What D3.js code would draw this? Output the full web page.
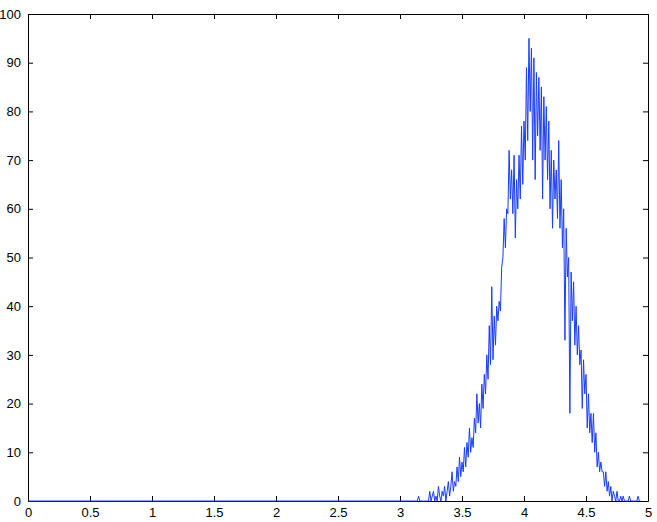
<!DOCTYPE html>
<html>
<head>
<meta charset="utf-8">
<script src="https://cdn.jsdelivr.net/npm/d3@7"></script>
<style>
  body { margin: 0; background: #fff; }
  .axis text { font-family: "Liberation Sans", Arial, sans-serif; font-size: 13px; fill: #000; }
  .axis path, .axis line { stroke: #000; }
</style>
</head>
<body>
<div class="chart"></div>
<script>
// tick labels
const xTicks = [0, 0.5, 1, 1.5, 2, 2.5, 3, 3.5, 4, 4.5, 5];
const yTicks = [0, 10, 20, 30, 40, 50, 60, 70, 80, 90, 100];

// line starts flat at zero from x = 0
const leadIn = [[0, 0]];

// histogram counts, one per bin of width 0.01 starting at 3.10
const binStart = 3.10;
const binWidth = 0.01;
const counts = [
  0, 0, 0, 0, 0, 1, 0, 0, 0, 0,      // 3.10
  0, 0, 0, 0, 2, 0, 1, 2, 0, 1,      // 3.20
  0, 3, 1, 0, 2, 1, 3, 0, 2, 4,      // 3.30
  1, 3, 6, 2, 4, 3, 7, 4, 9, 5,      // 3.40
  8, 6, 11, 7, 12, 9, 15, 10, 13, 11, // 3.50
  17, 14, 22, 16, 20, 15, 24, 19, 26, 22, // 3.60
  30, 25, 36, 28, 44, 29, 38, 32, 40, 37, // 3.70
  41, 39, 48, 50, 58, 52, 60, 59, 72, 62, // 3.80
  68, 59, 71, 54, 66, 60, 71, 62, 77, 65, // 3.90
  78, 70, 89, 74, 95, 80, 93, 70, 91, 66, // 4.00
  88, 75, 87, 72, 85, 62, 83, 70, 81, 66, // 4.10
  78, 60, 72, 56, 70, 62, 68, 58, 74, 56, // 4.20
  66, 52, 60, 33, 56, 46, 50, 18, 47, 37, // 4.30
  45, 32, 40, 30, 36, 28, 31, 19, 29, 22, // 4.40
  26, 15, 22, 14, 18, 12, 18, 10, 14, 7,  // 4.50
  10, 6, 8, 6, 6, 3, 6, 2, 4, 1,          // 4.60
  3, 0, 2, 1, 0, 2, 0, 0, 1, 0,           // 4.70
  1, 0, 0, 0, 0, 1, 0, 0, 0, 0,           // 4.80
  0, 0, 1, 0, 0                           // 4.90
];

const margin = {top: 14, left: 28, right: 9, bottom: 21};
const width = 657 - margin.left - margin.right;
const height = 522 - margin.top - margin.bottom;

const svg = d3.select(".chart").append("svg")
    .attr("width", 657)
    .attr("height", 522)
    .append("g")
    .attr("transform", "translate(" + margin.left + "," + margin.top + ")");

const xScale = d3.scaleLinear().domain([0, 5]).range([0, width]);
const yScale = d3.scaleLinear().domain([0, 100]).range([height, 0]);

const points = leadIn.concat(counts.map((c, i) => [binStart + i * binWidth, c]));

const line = d3.line()
    .x(d => xScale(d[0]))
    .y(d => yScale(d[1]));

// axes, ticks pointing inward like MATLAB
svg.append("g")
    .attr("class", "axis x-axis")
    .attr("transform", `translate(0, ${height})`)
    .call(d3.axisBottom(xScale).tickValues(xTicks).tickFormat(d3.format("")).tickSizeInner(-5).tickSizeOuter(0).tickPadding(7));

svg.append("g")
    .attr("class", "axis y-axis")
    .call(d3.axisLeft(yScale).tickValues(yTicks).tickSizeInner(-5).tickSizeOuter(0).tickPadding(7));

svg.append("g")
    .attr("class", "axis")
    .call(d3.axisTop(xScale).tickValues(xTicks).tickFormat("").tickSizeInner(-5).tickSizeOuter(0));

svg.append("g")
    .attr("class", "axis")
    .attr("transform", `translate(${width}, 0)`)
    .call(d3.axisRight(yScale).tickValues(yTicks).tickFormat("").tickSizeInner(-5).tickSizeOuter(0));

svg.append("path")
    .datum(points)
    .attr("fill", "none")
    .attr("stroke", "#1a3cff")
    .attr("stroke-width", 1)
    .attr("d", line);
</script>
</body>
</html>
